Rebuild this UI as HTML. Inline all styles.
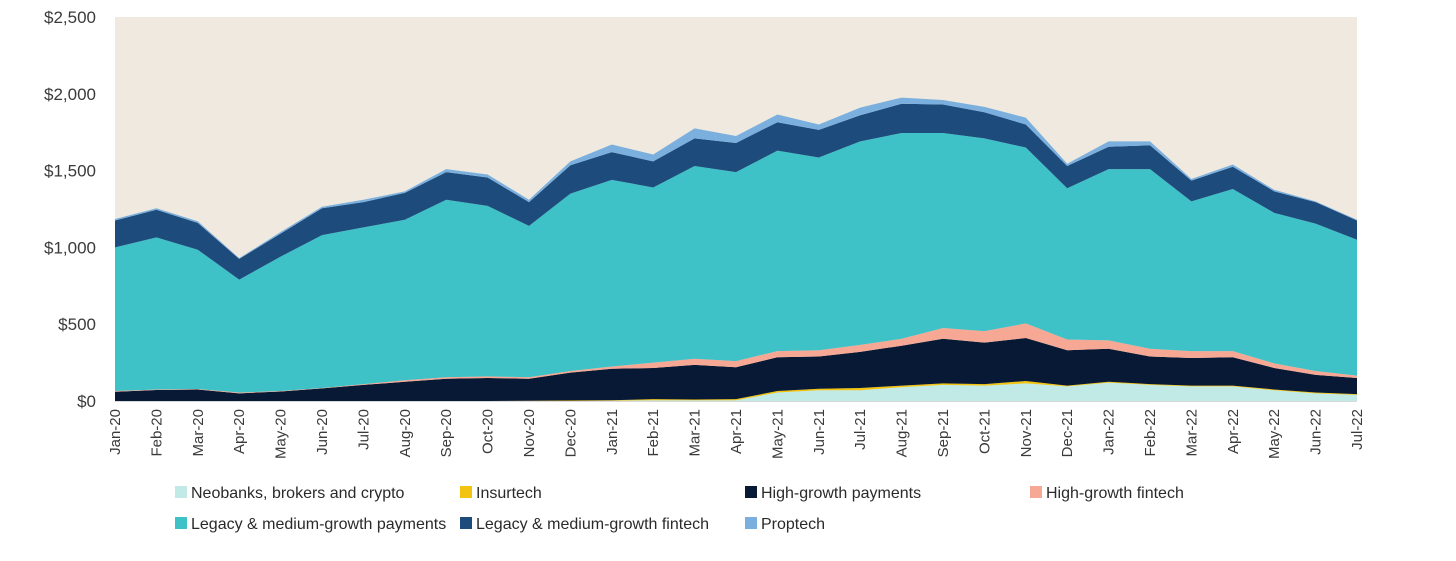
<!DOCTYPE html>
<html><head><meta charset="utf-8"><style>
body{margin:0;background:#fff;font-family:"Liberation Sans",sans-serif;}
svg{display:block}
</style></head><body>
<svg id="c" width="1456" height="561"></svg>
<script>
const months=["Jan-20","Feb-20","Mar-20","Apr-20","May-20","Jun-20","Jul-20","Aug-20","Sep-20","Oct-20","Nov-20","Dec-20","Jan-21","Feb-21","Mar-21","Apr-21","May-21","Jun-21","Jul-21","Aug-21","Sep-21","Oct-21","Nov-21","Dec-21","Jan-22","Feb-22","Mar-22","Apr-22","May-22","Jun-22","Jul-22"];
const yTicks=[0,500,1000,1500,2000,2500];
const yTickLabels=["$0","$500","$1,000","$1,500","$2,000","$2,500"];
const neobanks=[0,0,0,0,0,0,0,0,0,0,0,0,2,5,5,5,55,70,70,90,105,100,115,95,120,105,95,95,70,50,40];
const insurtech=[0,0,0,0,0,0,0,0,0,0,2,3,3,7,5,7,10,10,15,10,10,10,15,5,5,5,5,5,5,5,5];
const hgPayments=[60,72,75,50,62,82,105,125,145,150,143,182,205,203,225,208,220,210,235,260,290,270,280,230,215,180,180,185,140,115,105];
const hgFintech=[5,3,3,5,3,3,5,10,10,10,10,10,15,35,40,40,40,40,45,45,70,75,95,70,55,50,45,40,30,25,15];
const legacyPayments=[935,990,907,735,875,995,1020,1045,1155,1110,985,1155,1215,1140,1255,1230,1305,1255,1325,1340,1270,1255,1145,985,1115,1170,975,1055,980,960,885];
const legacyFintech=[175,180,175,135,150,175,165,175,180,185,155,185,180,170,180,190,185,180,170,190,185,170,150,145,145,155,135,145,140,140,125];
const proptech=[10,10,10,5,10,10,15,10,20,20,15,25,50,45,65,45,50,35,50,40,30,35,45,15,35,25,10,15,10,5,5];
const seriesNames=["Neobanks, brokers and crypto","Insurtech","High-growth payments","High-growth fintech","Legacy & medium-growth payments","Legacy & medium-growth fintech","Proptech"];
const series=[neobanks,insurtech,hgPayments,hgFintech,legacyPayments,legacyFintech,proptech];
const colors=["#c1eae6","#f2c40f","#071934","#f6a894","#3ec1c7","#1c4b7c","#7bb0de"];
const keys=["neobanks","insurtech","high-growth-payments","high-growth-fintech","legacy-payments","legacy-fintech","proptech"];

const L=115,R=1357,T=17,B=401,maxV=2500;
const X=i=>L+(R-L)*i/(months.length-1);
const Y=v=>B-(B-T)*v/maxV;
const svg=document.getElementById('c');
const NS="http://www.w3.org/2000/svg";
function mk(t,a){const e=document.createElementNS(NS,t);for(const k in a)e.setAttribute(k,a[k]);svg.appendChild(e);return e;}
const bg=mk('rect',{x:L,y:T,width:R-L,height:B-T,fill:'#f0e9df'});


let base=months.map(()=>0);
series.forEach((s,k)=>{
  const top=base.map((b,i)=>b+s[i]);
  let d='M'+months.map((m,i)=>X(i)+','+Y(top[i])).join(' L');
  for(let i=months.length-1;i>=0;i--)d+=' L'+X(i)+','+Y(base[i]);
  const p=mk('path',{d:d+'Z',fill:colors[k]});
  
  
  base=top;
});
const ax=mk('line',{x1:L,x2:R,y1:B+0.5,y2:B+0.5,stroke:'#d9d9d9','stroke-width':1});


yTicks.forEach((v,i)=>{
  const t=mk('text',{x:96,y:Y(v)+6,'text-anchor':'end','font-size':17,fill:'#3a3a3a'});
  t.textContent=yTickLabels[i];
  
  
});
months.forEach((m,i)=>{
  const t=mk('text',{x:0,y:0,'text-anchor':'end','font-size':15,fill:'#3a3a3a',transform:`translate(${X(i)+5},409) rotate(-90)`});
  t.textContent=m;
  
  
});
const lx=[175,460,745,1030];
seriesNames.forEach((n,k)=>{
  const col=k%4,row=Math.floor(k/4);
  const x=lx[col],y=492+row*31;
  const g=document.createElementNS(NS,'g');svg.appendChild(g);
  
  
  const r=document.createElementNS(NS,'rect');
  r.setAttribute('x',x);r.setAttribute('y',y-6);r.setAttribute('width',12);r.setAttribute('height',12);r.setAttribute('fill',colors[k]);
  g.appendChild(r);
  const t=document.createElementNS(NS,'text');
  t.setAttribute('x',x+16);t.setAttribute('y',y+6);t.setAttribute('font-size',16);t.setAttribute('fill','#2a2a2a');
  t.textContent=n;g.appendChild(t);
});
</script>
</body></html>
